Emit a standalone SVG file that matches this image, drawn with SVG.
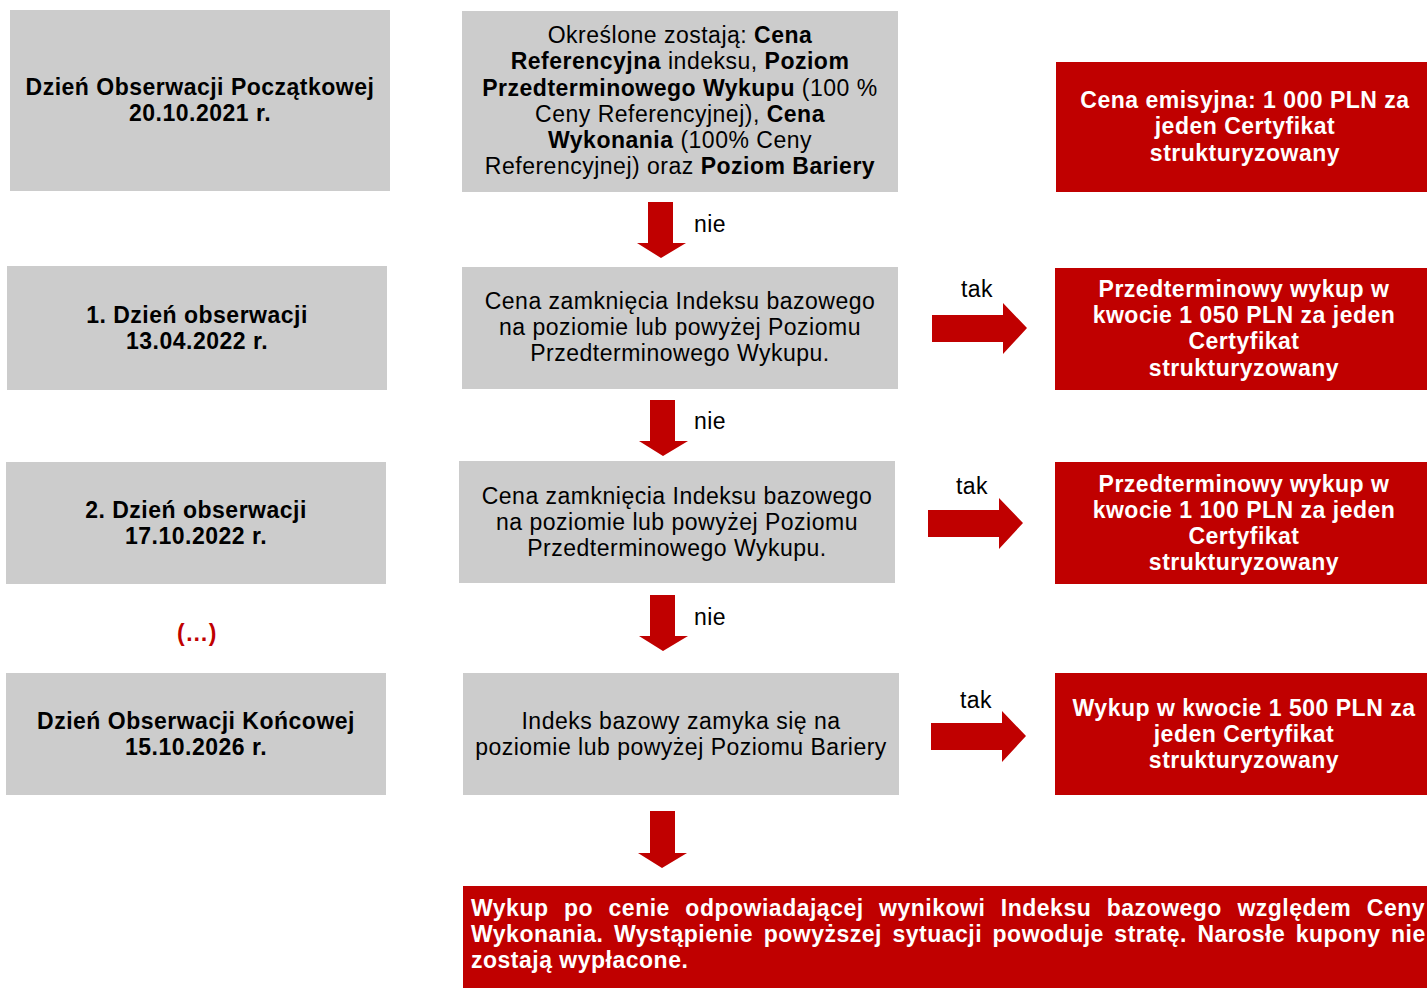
<svg xmlns="http://www.w3.org/2000/svg" width="1427" height="988" viewBox="0 0 1427 988">
<style>
.g{fill:#cccccc}
.r{fill:#c00000}
.t{font-family:"Liberation Sans",Arial,sans-serif;font-size:23px;letter-spacing:0.5px;fill:#000;text-anchor:middle}
.b{font-weight:bold}
.w{font-family:"Liberation Sans",Arial,sans-serif;font-size:23px;letter-spacing:0.5px;font-weight:bold;fill:#fff;text-anchor:middle}
.f{font-family:"Liberation Sans",Arial,sans-serif;font-size:23px;letter-spacing:0.5px;font-weight:bold;fill:#fff}
.a{fill:#c00000}
.l{font-family:"Liberation Sans",Arial,sans-serif;font-size:23px;letter-spacing:0.5px;fill:#000;text-anchor:middle}
</style>
<rect width="1427" height="988" fill="#fff"/>
<g id="left1"><rect class="g" x="10" y="10" width="380" height="181"/><text class="t b" x="200" y="95">Dzień Obserwacji Początkowej</text><text class="t b" x="200" y="121">20.10.2021 r.</text></g>
<g id="left2"><rect class="g" x="7" y="266" width="380" height="124"/><text class="t b" x="197" y="323">1. Dzień obserwacji</text><text class="t b" x="197" y="349">13.04.2022 r.</text></g>
<g id="left3"><rect class="g" x="6" y="462" width="380" height="122"/><text class="t b" x="196" y="518">2. Dzień obserwacji</text><text class="t b" x="196" y="544">17.10.2022 r.</text></g>
<g id="ellipsis"><text class="t b" x="197" y="641" style="fill:#c00000">(…)</text></g>
<g id="left4"><rect class="g" x="6" y="673" width="380" height="122"/><text class="t b" x="196" y="729">Dzień Obserwacji Końcowej</text><text class="t b" x="196" y="755">15.10.2026 r.</text></g>

<g id="mid1"><rect class="g" x="462" y="11" width="436" height="181"/>
<text class="t" x="680" y="43">Określone zostają: <tspan class="b">Cena</tspan></text>
<text class="t" x="680" y="69"><tspan class="b">Referencyjna</tspan> indeksu, <tspan class="b">Poziom</tspan></text>
<text class="t" x="680" y="96"><tspan class="b">Przedterminowego Wykupu</tspan> (100 %</text>
<text class="t" x="680" y="122">Ceny Referencyjnej), <tspan class="b">Cena</tspan></text>
<text class="t" x="680" y="148"><tspan class="b">Wykonania</tspan> (100% Ceny</text>
<text class="t" x="680" y="174">Referencyjnej) oraz <tspan class="b">Poziom Bariery</tspan></text>
</g>
<g id="mid2"><rect class="g" x="462" y="267" width="436" height="122"/>
<text class="t" x="680" y="309">Cena zamknięcia Indeksu bazowego</text>
<text class="t" x="680" y="335">na poziomie lub powyżej Poziomu</text>
<text class="t" x="680" y="361">Przedterminowego Wykupu.</text>
</g>
<g id="mid3"><rect class="g" x="459" y="461" width="436" height="122"/>
<text class="t" x="677" y="504">Cena zamknięcia Indeksu bazowego</text>
<text class="t" x="677" y="530">na poziomie lub powyżej Poziomu</text>
<text class="t" x="677" y="556">Przedterminowego Wykupu.</text>
</g>
<g id="mid4"><rect class="g" x="463" y="673" width="436" height="122"/>
<text class="t" x="681" y="729">Indeks bazowy zamyka się na</text>
<text class="t" x="681" y="755">poziomie lub powyżej Poziomu Bariery</text>
</g>

<g id="red1"><rect class="r" x="1056" y="62" width="371" height="130"/>
<text class="w" x="1245" y="108">Cena emisyjna: 1 000 PLN za</text>
<text class="w" x="1245" y="134">jeden Certyfikat</text>
<text class="w" x="1245" y="161">strukturyzowany</text>
</g>
<g id="red2"><rect class="r" x="1055" y="268" width="372" height="122"/>
<text class="w" x="1244" y="297">Przedterminowy wykup w</text>
<text class="w" x="1244" y="323">kwocie 1 050 PLN za jeden</text>
<text class="w" x="1244" y="349">Certyfikat</text>
<text class="w" x="1244" y="376">strukturyzowany</text>
</g>
<g id="red3"><rect class="r" x="1055" y="462" width="372" height="122"/>
<text class="w" x="1244" y="492">Przedterminowy wykup w</text>
<text class="w" x="1244" y="518">kwocie 1 100 PLN za jeden</text>
<text class="w" x="1244" y="544">Certyfikat</text>
<text class="w" x="1244" y="570">strukturyzowany</text>
</g>
<g id="red4"><rect class="r" x="1055" y="673" width="372" height="122"/>
<text class="w" x="1244" y="716">Wykup w kwocie 1 500 PLN za</text>
<text class="w" x="1244" y="742">jeden Certyfikat</text>
<text class="w" x="1244" y="768">strukturyzowany</text>
</g>
<g id="final"><rect class="r" x="463" y="886" width="964" height="102"/>
<text class="f" x="471" y="916" word-spacing="8.6">Wykup po cenie odpowiadającej wynikowi Indeksu bazowego względem Ceny</text>
<text class="f" x="471" y="942" word-spacing="3.6">Wykonania. Wystąpienie powyższej sytuacji powoduje stratę. Narosłe kupony nie</text>
<text class="f" x="471" y="968">zostają wypłacone.</text>
</g>

<g id="connectors">
<polygon class="a" points="648,202 673,202 673,243 686,243 661,258 637,243 648,243"/>
<polygon class="a" points="650,400 675,400 675,441 688,441 663,456 639,441 650,441"/>
<polygon class="a" points="650,595 675,595 675,636 688,636 663,651 639,636 650,636"/>
<polygon class="a" points="650,811 675,811 675,853 687,853 662,868 638,853 650,853"/>
<polygon class="a" points="932,315 1003,315 1003,303 1027,328 1003,354 1003,342 932,342"/>
<polygon class="a" points="928,510 999,510 999,498 1023,523 999,549 999,537 928,537"/>
<polygon class="a" points="931,723 1002,723 1002,711 1026,736 1002,762 1002,750 931,750"/>
<text class="l" x="710" y="232">nie</text>
<text class="l" x="710" y="429">nie</text>
<text class="l" x="710" y="625">nie</text>
<text class="l" x="977" y="297">tak</text>
<text class="l" x="972" y="494">tak</text>
<text class="l" x="976" y="708">tak</text>
</g>
</svg>
